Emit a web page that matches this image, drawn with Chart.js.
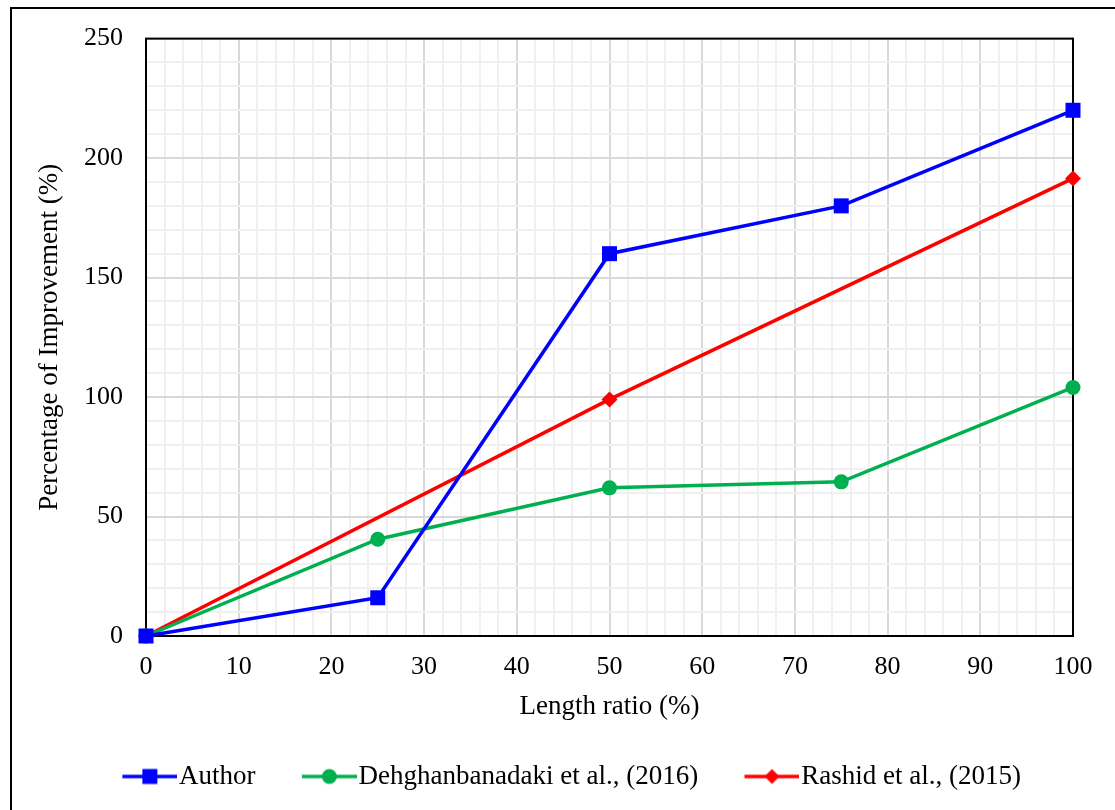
<!DOCTYPE html>
<html>
<head>
<meta charset="utf-8">
<script src="https://cdn.jsdelivr.net/npm/chart.js@4.4.0/dist/chart.umd.min.js"></script>
<style>
  body { margin: 0; background: #fff; }
  canvas { display: block; }
</style>
</head>
<body>
<canvas id="myChart" width="1115" height="810"></canvas>
<script>
const xAuthor = [0, 25, 50, 75, 100];
const yAuthor = [0, 16, 160, 180, 220];
const xDehghan = [0, 25, 50, 75, 100];
const yDehghan = [0, 40.5, 62, 64.5, 104];
const xRashid = [0, 50, 100];
const yRashid = [0, 99, 191.5];
const seriesNames = ['Author', 'Dehghanbanadaki et al., (2016)', 'Rashid et al., (2015)'];

const FONT = "'Liberation Serif', 'Times New Roman', serif";

const toPoints = (xs, ys) => xs.map((x, i) => ({ x: x, y: ys[i] }));

// little line + marker picture for the legend (transparent margin on the left)
const legendIcon = (color, style) => {
  const c = document.createElement('canvas');
  c.width = 69; c.height = 18;
  const g = c.getContext('2d');
  g.strokeStyle = color; g.lineWidth = 3.5;
  g.beginPath(); g.moveTo(14, 9); g.lineTo(69, 9); g.stroke();
  g.fillStyle = color;
  const cx = 41.5;
  if (style === 'rect') g.fillRect(cx - 7.5, 1.5, 15, 15);
  else if (style === 'circle') { g.beginPath(); g.arc(cx, 9, 7.5, 0, Math.PI * 2); g.fill(); }
  else { g.beginPath(); g.moveTo(cx, 1.5); g.lineTo(cx + 7.5, 9); g.lineTo(cx, 16.5); g.lineTo(cx - 7.5, 9); g.closePath(); g.fill(); }
  return c;
};

const frame = {
  id: 'frame',
  afterLayout(chart) {
    chart.legend.left += 34;
    chart.legend.right += 34;
  },
  beforeDatasetsDraw(chart) {
    const a = chart.chartArea, ctx = chart.ctx;
    ctx.save();
    ctx.strokeStyle = '#000'; ctx.lineWidth = 2;
    ctx.strokeRect(a.left, a.top, a.right - a.left, a.bottom - a.top);
    ctx.restore();
  },
  afterDraw(chart) {
    const ctx = chart.ctx;
    ctx.save();
    ctx.strokeStyle = '#000'; ctx.lineWidth = 2;
    ctx.beginPath(); ctx.moveTo(11, 810); ctx.lineTo(11, 8); ctx.lineTo(1115, 8); ctx.stroke();
    ctx.restore();
  }
};

const gridColor = c => (c.tick && c.tick.value % 10 === 0) ? '#d9d9d9' : '#f0f0f0';
const gridColorY = c => (c.tick && c.tick.value % 50 === 0) ? '#d9d9d9' : '#f0f0f0';

const mk = (label, data, color, style, icon) => ({
  label: label,
  data: data,
  showLine: true,
  borderColor: color,
  backgroundColor: color,
  borderWidth: 3.5,
  pointStyle: style,
  pointRadius: style === 'circle' ? 7.5 : (style === 'rect' ? 10.6 : 8),
  pointBorderWidth: 0,
  clip: false,
  legendIcon: icon
});

const ctx = document.getElementById('myChart').getContext('2d');
new Chart(ctx, {
  type: 'scatter',
  data: {
    datasets: [
      mk(seriesNames[0], toPoints(xAuthor, yAuthor), '#0000ff', 'rect', legendIcon('#0000ff', 'rect')),
      mk(seriesNames[1], toPoints(xDehghan, yDehghan), '#00b050', 'circle', legendIcon('#00b050', 'circle')),
      mk(seriesNames[2], toPoints(xRashid, yRashid), '#ff0000', 'rectRot', legendIcon('#ff0000', 'rectRot'))
    ]
  },
  options: {
    responsive: false,
    animation: false,
    layout: { padding: { left: 0, top: 37, right: 42, bottom: 10 } },
    plugins: {
      tooltip: { enabled: false },
      legend: {
        position: 'bottom',
        labels: {
          usePointStyle: true,
          pointStyleWidth: 45.5,
          padding: 44,
          color: '#000',
          font: { family: FONT, size: 27 },
          generateLabels: chart => chart.data.datasets.map((d, i) => ({
            text: d.label,
            pointStyle: d.legendIcon,
            fontColor: '#000',
            lineWidth: 0,
            datasetIndex: i
          }))
        }
      }
    },
    scales: {
      x: {
        type: 'linear',
        min: 0, max: 100,
        border: { display: false },
        grid: { color: gridColor, lineWidth: 2, drawTicks: false },
        ticks: {
          stepSize: 2, autoSkip: false, maxRotation: 0, padding: 16,
          color: '#000', font: { family: FONT, size: 26 },
          callback: v => v % 10 === 0 ? v : ''
        },
        title: { display: true, text: 'Length ratio (%)', color: '#000', font: { family: FONT, size: 27 }, padding: { top: 10, bottom: -4 } },
        afterFit: s => { s.height = 83; }
      },
      y: {
        min: 0, max: 250,
        border: { display: false },
        grid: { color: gridColorY, lineWidth: 2, drawTicks: false },
        ticks: {
          stepSize: 10, autoSkip: false, padding: 23,
          color: '#000', font: { family: FONT, size: 26 },
          callback: v => v % 50 === 0 ? v : ''
        },
        title: { display: true, text: 'Percentage of Improvement (%)', color: '#000', font: { family: FONT, size: 27 }, padding: { top: 34, bottom: 0 } },
        afterFit: s => { s.width = 146; }
      }
    }
  },
  plugins: [frame]
});
</script>
</body>
</html>
